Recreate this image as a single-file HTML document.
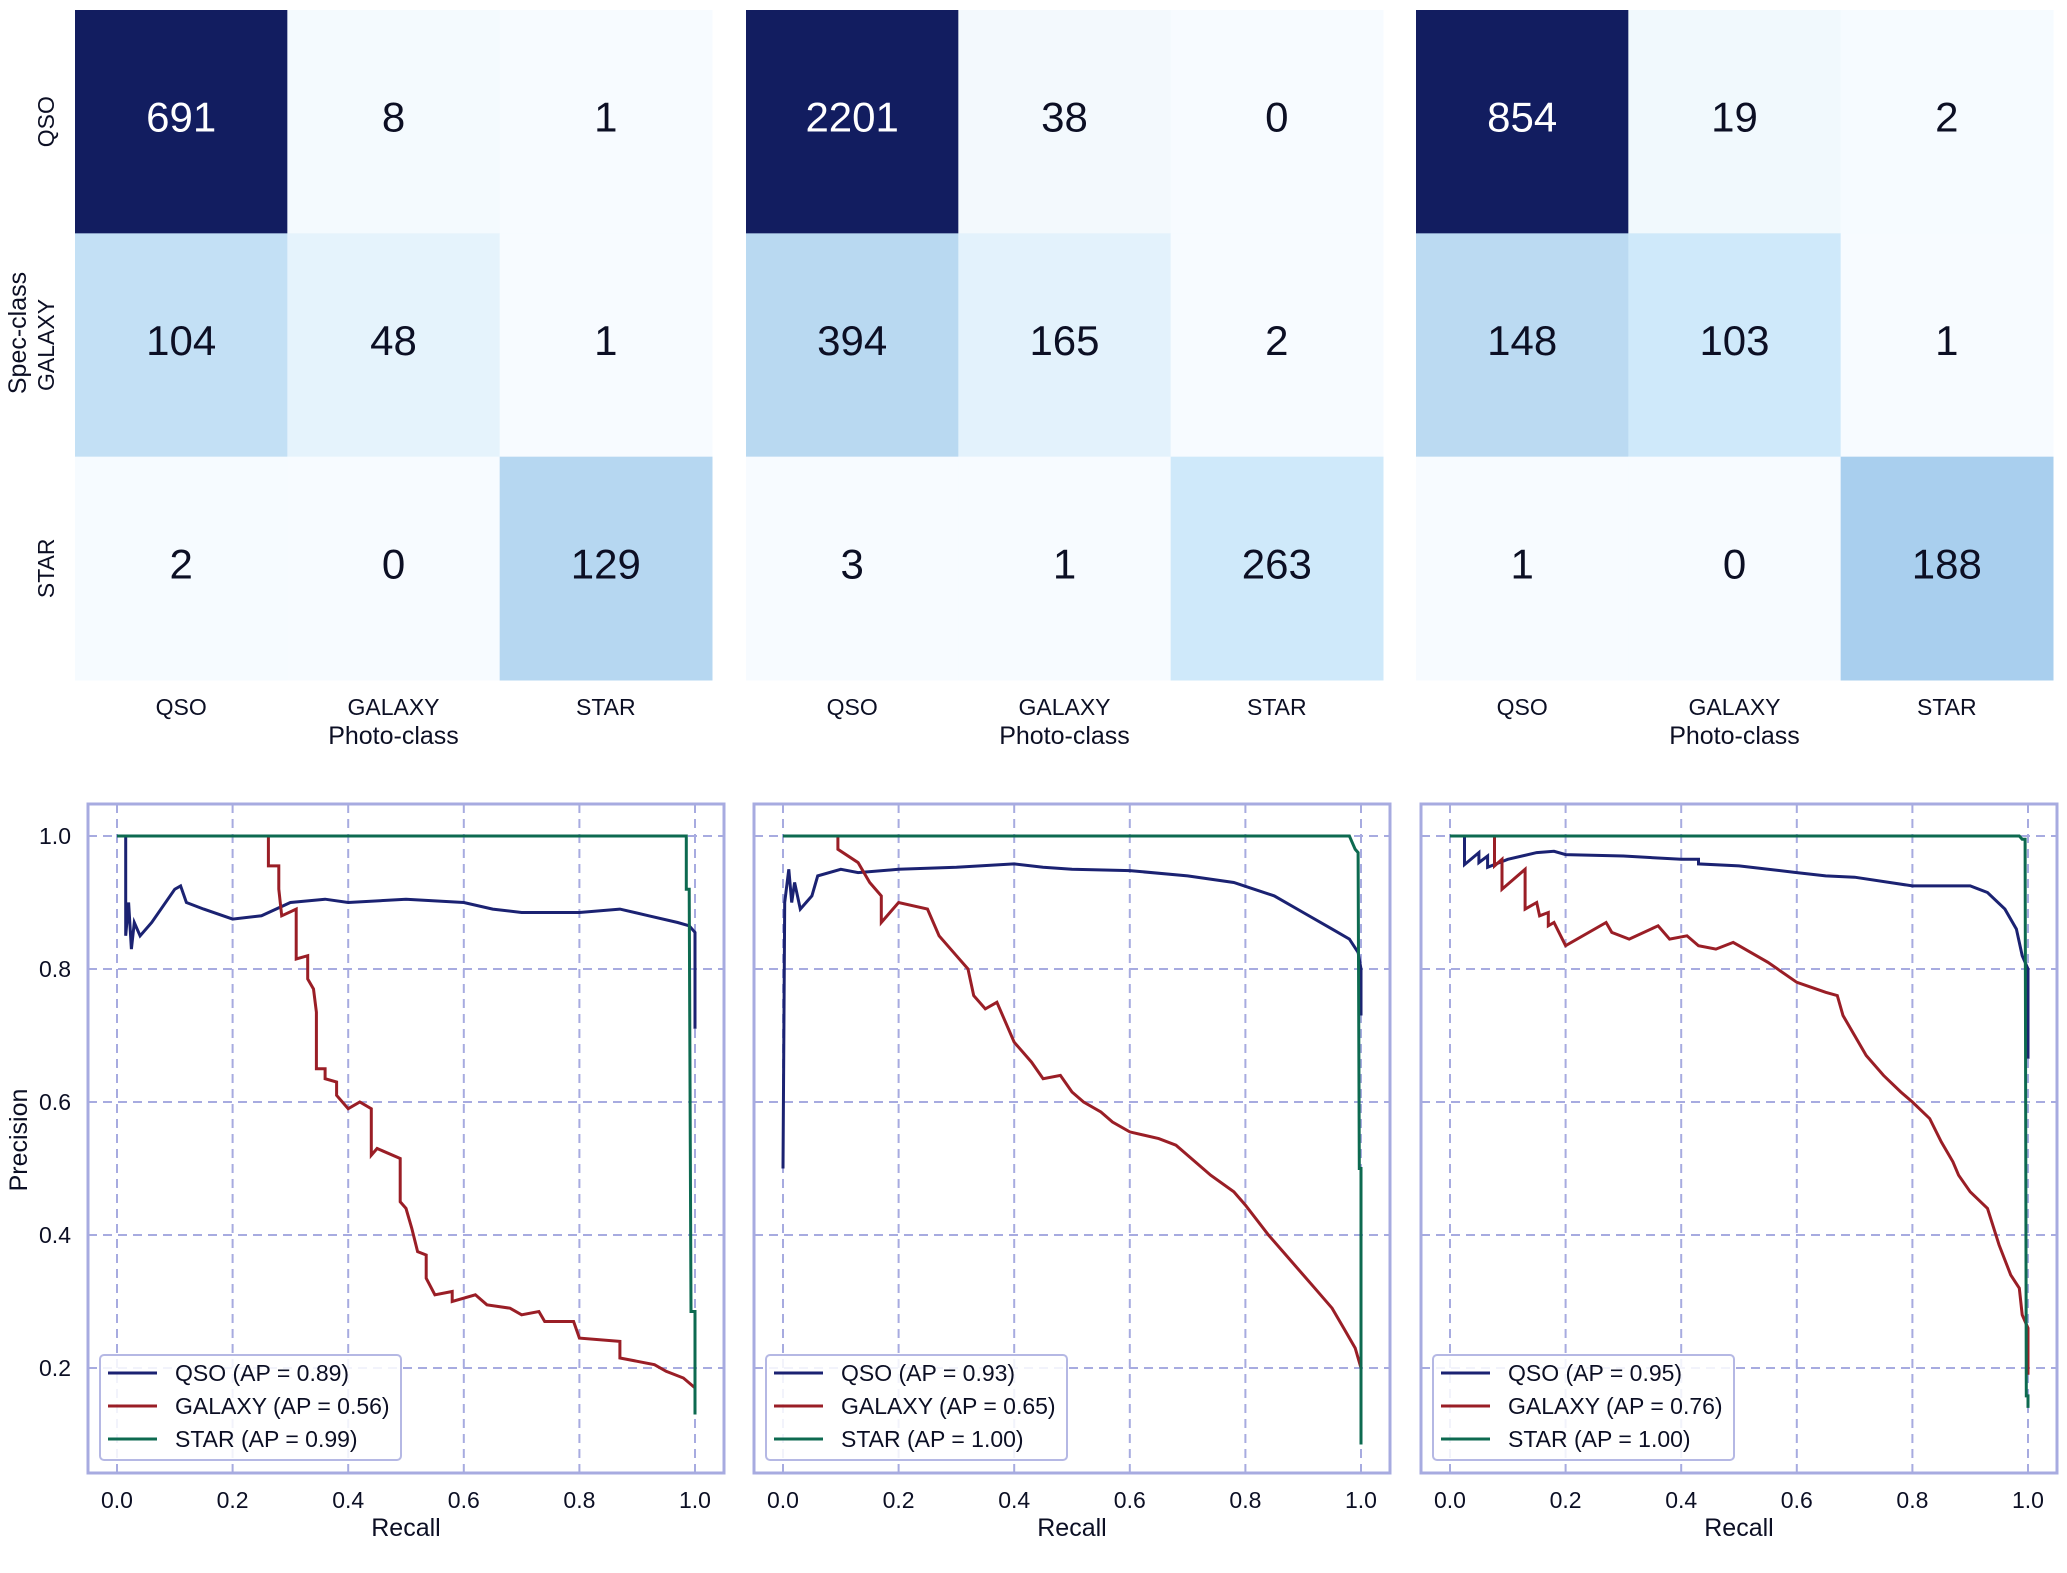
<!DOCTYPE html>
<html>
<head>
<meta charset="utf-8">
<style>
html,body{margin:0;padding:0;background:#fff;}
svg{display:block;font-family:"Liberation Sans",Arial,sans-serif;}
</style>
</head>
<body>
<svg id="root" width="2067" height="1573" viewBox="0 0 2067 1573"></svg>
<script>
// ---------- data ----------
const classes = ["QSO","GALAXY","STAR"];
const cm1 = [[691,8,1],[104,48,1],[2,0,129]];
const cm2 = [[2201,38,0],[394,165,2],[3,1,263]];
const cm3 = [[854,19,2],[148,103,1],[1,0,188]];
const xTicks = [0,0.2,0.4,0.6,0.8,1.0];
const xTickLabels = ["0.0","0.2","0.4","0.6","0.8","1.0"];
const yTicks = [0.2,0.4,0.6,0.8,1.0];
const yTickLabels = ["0.2","0.4","0.6","0.8","1.0"];
const apQSO = ["0.89","0.93","0.95"];
const apGAL = ["0.56","0.65","0.76"];
const apSTAR = ["0.99","1.00","1.00"];

const p1QsoR = [0,0.015,0.015,0.02,0.025,0.03,0.04,0.06,0.1,0.11,0.12,0.15,0.2,0.25,0.3,0.36,0.4,0.5,0.6,0.65,0.7,0.8,0.87,0.92,0.97,0.99,1.0,1.0];
const p1QsoP = [1,1,0.85,0.9,0.83,0.87,0.85,0.87,0.92,0.925,0.9,0.89,0.875,0.88,0.9,0.905,0.9,0.905,0.9,0.89,0.885,0.885,0.89,0.88,0.87,0.865,0.855,0.71];
const p1GalR = [0.262,0.262,0.28,0.28,0.285,0.31,0.31,0.33,0.33,0.34,0.345,0.345,0.36,0.36,0.38,0.38,0.4,0.42,0.44,0.44,0.45,0.49,0.49,0.5,0.51,0.52,0.535,0.535,0.55,0.58,0.58,0.62,0.64,0.68,0.7,0.73,0.74,0.79,0.8,0.87,0.87,0.9,0.93,0.95,0.98,1.0];
const p1GalP = [1,0.955,0.955,0.92,0.88,0.89,0.815,0.82,0.785,0.77,0.735,0.65,0.65,0.635,0.63,0.61,0.59,0.6,0.59,0.52,0.53,0.515,0.45,0.44,0.41,0.375,0.37,0.335,0.31,0.315,0.3,0.31,0.295,0.29,0.28,0.285,0.27,0.27,0.245,0.24,0.215,0.21,0.205,0.195,0.185,0.17];
const p1StarR = [0,0.985,0.985,0.99,0.993,1.0,1.0];
const p1StarP = [1,1,0.92,0.92,0.285,0.285,0.13];

const p2QsoR = [0,0.003,0.01,0.015,0.02,0.03,0.04,0.05,0.06,0.1,0.13,0.2,0.3,0.4,0.45,0.5,0.6,0.7,0.78,0.85,0.9,0.95,0.98,0.995,1.0,1.0];
const p2QsoP = [0.5,0.9,0.95,0.9,0.93,0.89,0.9,0.91,0.94,0.95,0.945,0.95,0.953,0.958,0.953,0.95,0.948,0.94,0.93,0.91,0.885,0.86,0.845,0.825,0.8,0.73];
const p2GalR = [0.095,0.095,0.13,0.15,0.17,0.17,0.2,0.25,0.27,0.3,0.32,0.33,0.35,0.37,0.4,0.43,0.45,0.48,0.5,0.52,0.55,0.57,0.6,0.65,0.68,0.7,0.74,0.78,0.8,0.84,0.87,0.9,0.92,0.95,0.97,0.99,1.0];
const p2GalP = [1,0.98,0.96,0.93,0.91,0.87,0.9,0.89,0.85,0.82,0.8,0.76,0.74,0.75,0.69,0.66,0.635,0.64,0.615,0.6,0.585,0.57,0.555,0.545,0.535,0.52,0.49,0.465,0.445,0.4,0.37,0.34,0.32,0.29,0.26,0.23,0.2];
const p2StarR = [0,0.98,0.99,0.995,0.997,1.0,1.0];
const p2StarP = [1,1,0.98,0.975,0.5,0.5,0.085];

const p3QsoR = [0,0.025,0.025,0.05,0.05,0.065,0.065,0.08,0.1,0.15,0.18,0.2,0.3,0.4,0.43,0.43,0.5,0.6,0.65,0.7,0.8,0.9,0.93,0.96,0.98,0.99,1.0,1.0];
const p3QsoP = [1,1,0.957,0.975,0.96,0.97,0.953,0.958,0.965,0.975,0.977,0.972,0.97,0.965,0.965,0.958,0.955,0.945,0.94,0.938,0.925,0.925,0.915,0.89,0.86,0.82,0.8,0.665];
const p3GalR = [0.077,0.077,0.09,0.09,0.13,0.13,0.15,0.155,0.17,0.17,0.18,0.2,0.27,0.28,0.31,0.36,0.38,0.41,0.43,0.46,0.49,0.5,0.55,0.6,0.65,0.67,0.68,0.7,0.72,0.75,0.78,0.8,0.83,0.85,0.87,0.88,0.9,0.93,0.95,0.97,0.985,0.99,1.0,1.0];
const p3GalP = [1,0.955,0.965,0.92,0.95,0.89,0.9,0.88,0.885,0.865,0.87,0.835,0.87,0.855,0.845,0.865,0.845,0.85,0.835,0.83,0.84,0.835,0.81,0.78,0.765,0.76,0.73,0.7,0.67,0.64,0.615,0.6,0.575,0.54,0.51,0.49,0.465,0.44,0.385,0.34,0.32,0.28,0.26,0.19];
const p3StarR = [0,0.985,0.99,0.995,0.997,1.0,1.0];
const p3StarP = [1,1,0.995,0.995,0.158,0.158,0.14];

// ---------- helpers ----------
const NS = "http://www.w3.org/2000/svg";
const root = document.getElementById("root");
function mk(tag, attrs, parent){
  const e = document.createElementNS(NS, tag);
  for (const k in attrs) e.setAttribute(k, attrs[k]);
  (parent||root).appendChild(e);
  return e;
}
const stops = [[0,[247,251,255]],[0.02,[242,249,253]],[0.075,[227,242,252]],[0.12,[207,233,250]],[0.17,[188,219,242]],[0.22,[169,207,238]],[0.5,[70,120,185]],[1.0,[18,29,96]]];
function cmap(t){
  for (let i=1;i<stops.length;i++){
    if (t<=stops[i][0]){
      const a=stops[i-1],b=stops[i];const f=(t-a[0])/(b[0]-a[0]);
      const c=a[1].map((v,j)=>Math.round(v+(b[1][j]-v)*f));
      return "rgb("+c.join(",")+")";
    }
  }
  return "rgb(18,29,96)";
}

// ---------- heatmaps ----------
const hmLeft = [75,746,1416];
const hmW = 637, hmTop = 10, hmH = 670;
[cm1,cm2,cm3].forEach((cm,pi)=>{
  const g = mk("g",{});
  
  
  const mx = Math.max(...cm.flat());
  const cw = hmW/3, ch = hmH/3;
  cm.forEach((row,r)=>row.forEach((v,c)=>{
    const t = v/mx;
    const rect = mk("rect",{x:hmLeft[pi]+c*cw,y:hmTop+r*ch,width:cw+0.5,height:ch+0.5,fill:cmap(t)},g);
    
    
    const tx = mk("text",{x:hmLeft[pi]+c*cw+cw/2,y:hmTop+r*ch+ch/2+10,"text-anchor":"middle","font-size":42,fill:t>0.5?"#fff":"#0c0f24"},g);
    tx.textContent = v;
    
    
  }));
  classes.forEach((cl,c)=>{
    const tx = mk("text",{x:hmLeft[pi]+c*cw+cw/2,y:715,"text-anchor":"middle","font-size":23,fill:"#0c0f24"},g);
    tx.textContent = cl;
    
    
  });
  const xl = mk("text",{x:hmLeft[pi]+hmW/2,y:744,"text-anchor":"middle","font-size":25,fill:"#0c0f24"},g);
  xl.textContent = "Photo-class";
  
  
});
classes.forEach((cl,r)=>{
  const cy = hmTop + r*hmH/3 + hmH/6;
  const tx = mk("text",{x:0,y:0,"text-anchor":"middle","font-size":23,fill:"#0c0f24",transform:"translate(54,"+cy+") rotate(-90)"});
  tx.textContent = cl;
  
  
});
const sc = mk("text",{x:0,y:0,"text-anchor":"middle","font-size":25,fill:"#0c0f24",transform:"translate(26,333) rotate(-90)"});
sc.textContent = "Spec-class";



// ---------- PR curves ----------
const boxL = [88,754,1421];
const boxW = 636, boxT = 804, boxB = 1473;
const x0s = [117,783,1450];
const xSpan = 578;
function yScale(p){ return 836 + (1.0-p)*665; }
const colors = {qso:"#1b2272",gal:"#9a1e26",star:"#0d6a50"};
const panels = [
  [[p1QsoR,p1QsoP],[p1GalR,p1GalP],[p1StarR,p1StarP]],
  [[p2QsoR,p2QsoP],[p2GalR,p2GalP],[p2StarR,p2StarP]],
  [[p3QsoR,p3QsoP],[p3GalR,p3GalP],[p3StarR,p3StarP]]
];
panels.forEach((series,pi)=>{
  const g = mk("g",{});
  
  
  const xs = v => x0s[pi] + v*xSpan;
  xTicks.forEach(t=>{
    const l = mk("line",{x1:xs(t),x2:xs(t),y1:boxT,y2:boxB,stroke:"#a7abe0","stroke-width":2,"stroke-dasharray":"9,6"},g);
    
    
  });
  yTicks.forEach(t=>{
    const l = mk("line",{x1:boxL[pi],x2:boxL[pi]+boxW,y1:yScale(t),y2:yScale(t),stroke:"#a7abe0","stroke-width":2,"stroke-dasharray":"9,6"},g);
    
    
  });
  const keys = ["qso","gal","star"];
  series.forEach((s,si)=>{
    const pts = s[0].map((r,i)=>xs(r).toFixed(1)+","+yScale(s[1][i]).toFixed(1)).join(" ");
    const pl = mk("polyline",{points:pts,fill:"none",stroke:colors[keys[si]],"stroke-width":3,"stroke-linejoin":"miter"},g);
    
    
  });
  const box = mk("rect",{x:boxL[pi],y:boxT,width:boxW,height:boxB-boxT,fill:"none",stroke:"#a7abe0","stroke-width":3},g);
  
  
  xTicks.forEach((t,i)=>{
    const tx = mk("text",{x:xs(t),y:1508,"text-anchor":"middle","font-size":23,fill:"#0c0f24"},g);
    tx.textContent = xTickLabels[i];
    
    
  });
  const xt = mk("text",{x:x0s[pi]+xSpan/2,y:1536,"text-anchor":"middle","font-size":25,fill:"#0c0f24"},g);
  xt.textContent = "Recall";
  
  
  const lg = mk("g",{},g);
  
  
  const lx = boxL[pi]+12;
  mk("rect",{x:lx,y:1355,width:301,height:105,rx:4,fill:"#fff","fill-opacity":0.85,stroke:"#b5b8e4","stroke-width":2},lg);
  const labels = ["QSO (AP = "+apQSO[pi]+")","GALAXY (AP = "+apGAL[pi]+")","STAR (AP = "+apSTAR[pi]+")"];
  labels.forEach((lb,i)=>{
    const y = 1373 + i*33;
    const ln = mk("line",{x1:lx+8,x2:lx+57,y1:y,y2:y,stroke:colors[keys[i]],"stroke-width":3},lg);
    
    
    const tx = mk("text",{x:lx+75,y:y+8,"font-size":23,fill:"#0c0f24"},lg);
    tx.textContent = lb;
    
    
  });
});
yTicks.forEach((t,i)=>{
  const tx = mk("text",{x:71,y:yScale(t)+8,"text-anchor":"end","font-size":23,fill:"#0c0f24"});
  tx.textContent = yTickLabels[i];
  
  
});
const pt = mk("text",{x:0,y:0,"text-anchor":"middle","font-size":25,fill:"#0c0f24",transform:"translate(27,1140) rotate(-90)"});
pt.textContent = "Precision";


</script>
</body>
</html>
